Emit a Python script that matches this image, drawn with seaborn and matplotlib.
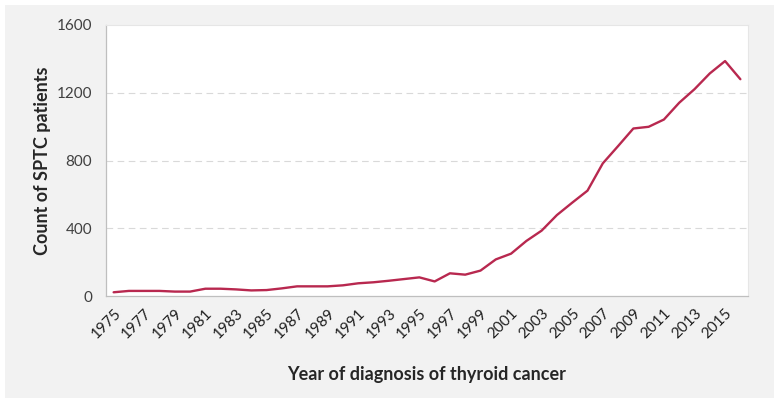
import numpy as np
import pandas as pd
import matplotlib
matplotlib.use("Agg")
import matplotlib.pyplot as plt
import seaborn as sns
from matplotlib.patches import Rectangle
from matplotlib.ticker import FixedLocator

# data
years = list(range(1975, 2017))
counts = [22, 30, 30, 30, 26, 26, 43, 43, 39, 33, 35, 45, 57, 57, 57, 63,
          75, 81, 90, 100, 110, 86, 134, 126, 150, 216, 250, 325, 386, 478,
          551, 622, 783, 885, 989, 999, 1042, 1141, 1221, 1314, 1387, 1280]
y_ticks = [0, 400, 800, 1200, 1600]
x_label_years = list(range(1975, 2016, 2))

df = pd.DataFrame({"year": years, "count": counts})

sns.set_style("white")
plt.rcParams["font.family"] = ["Lato", "DejaVu Sans"]

fig = plt.figure(figsize=(7.79, 4.03), dpi=100)
fig.patch.set_facecolor("white")
# light gray panel behind the chart
fig.patches.append(Rectangle((5 / 779, 5 / 403), 769 / 779, 393 / 403,
                             transform=fig.transFigure, facecolor="#f2f2f2",
                             edgecolor="none", zorder=-1))

ax = fig.add_axes([106 / 779, 107 / 403, 642 / 779, 271 / 403])
ax.set_facecolor("white")

sns.lineplot(data=df, x="year", y="count", ax=ax, color="#b8284f", linewidth=1.7)

ax.set_xlim(1974.5, 2016.5)
ax.set_ylim(0, 1600)
ax.set_yticks(y_ticks)
ax.set_yticklabels([str(v) for v in y_ticks], fontsize=11, color="#404040")
for v in y_ticks[1:-1]:
    ax.axhline(v, color="#d9d9d9", linewidth=0.8, linestyle=(0, (6, 4)), zorder=0)

ax.xaxis.set_major_locator(FixedLocator(x_label_years))
ax.xaxis.set_minor_locator(FixedLocator(np.arange(1974.5, 2017, 1.0)))
ax.set_xticklabels([str(y) for y in x_label_years], rotation=45, ha="right",
                   rotation_mode="anchor", fontsize=11, color="#202020")
ax.tick_params(axis="x", which="major", length=0, pad=7)
ax.tick_params(axis="x", which="minor", length=5, color="#bfbfbf", width=0.8)
ax.tick_params(axis="y", which="major", length=5, color="#bfbfbf", width=0.8, pad=5)

for side in ["left", "bottom"]:
    ax.spines[side].set_color("#bfbfbf")
    ax.spines[side].set_linewidth(0.9)
for side in ["top", "right"]:
    ax.spines[side].set_color("#e6e6e6")
    ax.spines[side].set_linewidth(0.8)

ax.set_xlabel("Year of diagnosis of thyroid cancer", fontsize=13,
              fontweight="bold", labelpad=18)
ax.set_ylabel("Count of SPTC patients", fontsize=13, fontweight="bold",
              labelpad=4)

fig.savefig("out.png", dpi=100)
